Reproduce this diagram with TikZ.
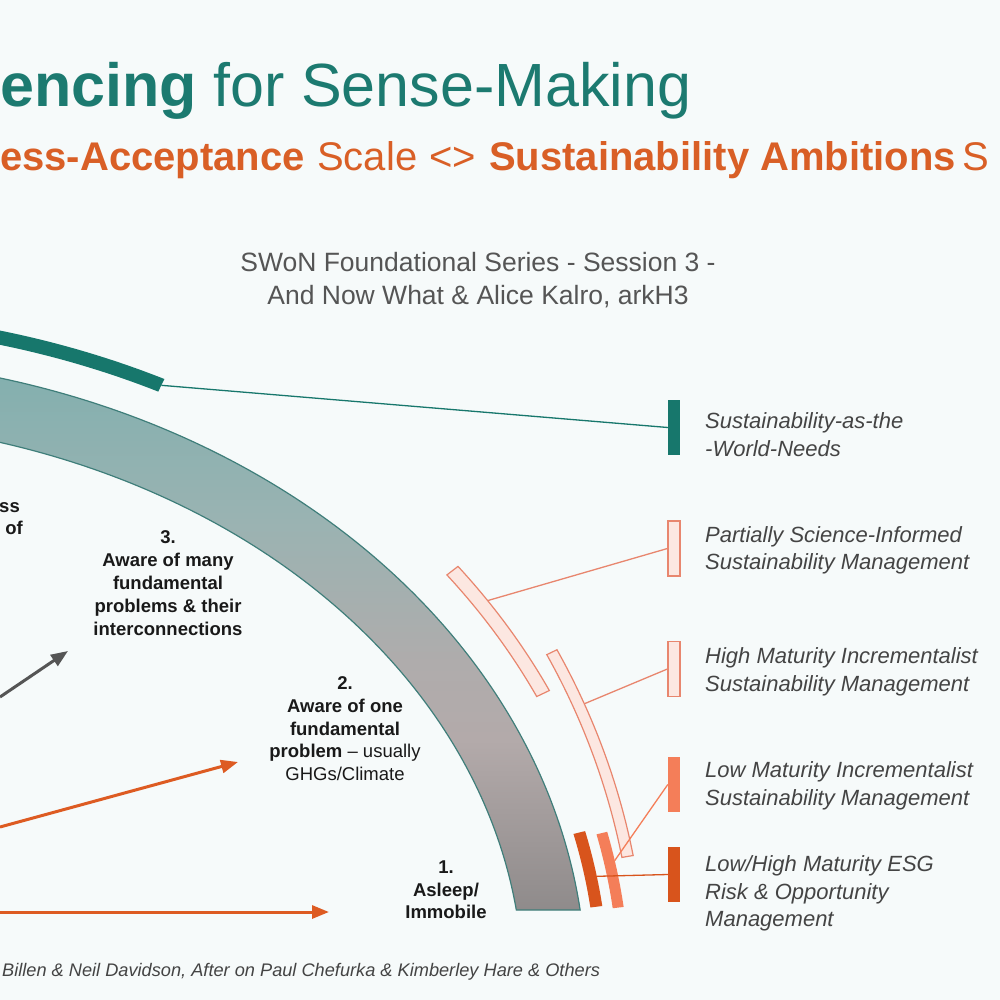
\documentclass[tikz,border=0pt]{standalone}
\usepackage{fontspec}
\setmainfont{Liberation Sans}
\usetikzlibrary{arrows.meta,calc}
\definecolor{bg}{HTML}{F6FAFA}
\definecolor{titleteal}{HTML}{1C7A70}
\definecolor{suborange}{HTML}{D95F26}
\definecolor{tealbar}{HTML}{17776C}
\definecolor{pinkfill}{HTML}{FCE7E1}
\definecolor{pinkline}{HTML}{E8866E}
\definecolor{salmon}{HTML}{F47E59}
\definecolor{darkorange}{HTML}{D8541C}
\definecolor{arrowgray}{HTML}{555555}
\definecolor{arroworange}{HTML}{DD5B22}
\definecolor{textgray}{HTML}{444444}
\definecolor{subgray}{HTML}{555555}
\definecolor{bandline}{HTML}{3F7E7A}
\definecolor{bandA}{HTML}{78AEAD}
\definecolor{bandB}{HTML}{9AB3B2}
\definecolor{bandC}{HTML}{AFACAC}
\definecolor{bandD}{HTML}{B3AAAA}
\definecolor{bandE}{HTML}{8E8A8A}
\newcommand\ringpart[7]{\path[#1] ($(C)+(#2:#6 and #7)$) arc[start angle=#2,end angle=#3,x radius=#6,y radius=#7] -- ($(C)+(#3:#4 and #5)$) arc[start angle=#3,end angle=#2,x radius=#4,y radius=#5] -- cycle;}
\begin{document}
\begin{tikzpicture}[x=1pt,y=1pt,
  lbl/.style={anchor=base west,inner sep=0pt,text=textgray,font=\fontsize{22}{26}\selectfont\itshape},
  stage/.style={anchor=base,inner sep=0pt,text=black!90,font=\fontsize{18.5}{22}\selectfont\bfseries},
  stagereg/.style={anchor=base,inner sep=0pt,text=black!90,font=\fontsize{18.5}{22}\selectfont},
  bar/.style={minimum width=12pt,minimum height=55pt,inner sep=0pt},
  conn/.style={line width=1.3pt},
  arr/.style={line width=3pt,-{Triangle[length=17pt,width=13pt]}},
  ttl/.style={anchor=base west,inner sep=0pt,text=titleteal,font=\fontsize{61}{61}\selectfont},
  sub/.style={anchor=base west,inner sep=0pt,text=suborange,font=\fontsize{40}{40}\selectfont},
  series/.style={anchor=base,inner sep=0pt,text=subgray,font=\fontsize{26.5}{30}\selectfont},
]
\useasboundingbox (0,-1000) rectangle (1000,0);
\clip (0,-1000) rectangle (1000,0);
\fill[bg] (0,-1000) rectangle (1000,0);
\coordinate (C) at (-201,-986.6);

% main gradient band
\begin{scope}
\clip ($(C)+(6.99:787 and 629.5)$) arc[start angle=6.99,end angle=100,x radius=787,y radius=629.5] -- ($(C)+(100:724 and 566.5)$) arc[start angle=100,end angle=7.77,x radius=724,y radius=566.5] -- cycle;
\shade[top color=bandA,bottom color=bandB] (-300,-300) rectangle (700,-522);
\shade[top color=bandB,bottom color=bandC] (-300,-520) rectangle (700,-662);
\shade[top color=bandC,bottom color=bandD] (-300,-660) rectangle (700,-742);
\shade[top color=bandD,bottom color=bandE] (-300,-740) rectangle (700,-915);
\end{scope}
\draw[bandline,line width=1.2pt] ($(C)+(6.99:787 and 629.5)$) arc[start angle=6.99,end angle=100,x radius=787,y radius=629.5] -- ($(C)+(100:724 and 566.5)$) arc[start angle=100,end angle=7.77,x radius=724,y radius=566.5] -- cycle;

% teal arc
\ringpart{fill=tealbar}{64}{100}{819.5}{662}{833.5}{676}
% pink arcs
\ringpart{fill=pinkfill,draw=pinkline,line width=1.2pt}{25.4}{37.5}{816.7}{676.3}{830.7}{690.3}
\ringpart{fill=pinkfill,draw=pinkline,line width=1.2pt}{10}{26.5}{835.6}{744}{847}{755}
% small arcs
\ringpart{fill=darkorange}{7.1}{13.8}{797.5}{640}{809.5}{652}
\ringpart{fill=salmon}{6.8}{13.3}{819.5}{662}{830.5}{673}

% anchor points on arcs
\coordinate (tealend) at ($(C)+(64:826.5 and 669)$);
\coordinate (p1pt) at ($(C)+(34:830.7 and 690.3)$);
\coordinate (p2pt) at ($(C)+(22:847 and 755)$);
\coordinate (salpt) at ($(C)+(10.8:830.5 and 673)$);
\coordinate (darkpt) at ($(C)+(9.74:809.5 and 652)$);

% right bars
\node[bar,fill=tealbar] (b1) at (674,-427.5) {};
\node[bar,fill=pinkfill,draw=pinkline,line width=1.2pt] (b2) at (674,-548.5) {};
\node[bar,fill=pinkfill,draw=pinkline,line width=1.2pt] (b3) at (674,-669) {};
\node[bar,fill=salmon] (b4) at (674,-784.5) {};
\node[bar,fill=darkorange] (b5) at (674,-874.5) {};

% connectors
\draw[conn,tealbar] (tealend) -- (b1.west);
\draw[conn,pinkline] (p1pt) -- (b2.west);
\draw[conn,pinkline] (p2pt) -- (b3.west);
\draw[conn,salmon] (salpt) -- (b4.west);
\draw[conn,darkorange] (darkpt) -- (b5.west);

% right labels
\node[lbl] (l1a) at (705,-428) {Sustainability-as-the};
\node[lbl] (l1b) at (705,-456) {-World-Needs};
\node[lbl] (l2a) at (705,-542) {Partially Science-Informed};
\node[lbl] (l2b) at (705,-569) {Sustainability Management};
\node[lbl] (l3a) at (705,-663) {High Maturity Incrementalist};
\node[lbl] (l3b) at (705,-691) {Sustainability Management};
\node[lbl] (l4a) at (705,-777) {Low Maturity Incrementalist};
\node[lbl] (l4b) at (705,-805) {Sustainability Management};
\node[lbl] (l5a) at (705,-871) {Low/High Maturity ESG};
\node[lbl] (l5b) at (705,-899) {Risk \& Opportunity};
\node[lbl] (l5c) at (705,-926) {Management};

% titles
\node[ttl,font=\fontsize{61}{61}\selectfont\bfseries] (ta) at (0,-107) {encing};
\node[ttl] (tb) at (213,-107) {for Sense-Making};
\node[sub,font=\fontsize{40}{40}\selectfont\bfseries] (sa) at (0,-171) {ess-Acceptance};
\node[sub] (sb) at (317,-171) {Scale};
\node[sub] (sc) at (429,-171) {<>};
\node[sub,font=\fontsize{40}{40}\selectfont\bfseries] (sd) at (489,-171) {Sustainability Ambitions};
\node[sub] (se) at (962,-171) {S};
\node[series] (ser1) at (478,-271) {SWoN Foundational Series - Session 3 -};
\node[series] (ser2) at (478,-304) {And Now What \& Alice Kalro, arkH3};

% stage labels
\node[stage,anchor=base east] (s4a) at (20,-512) {ss};
\node[stage,anchor=base east] (s4b) at (23,-534) {of};
\node[stage] (s3a) at (168,-543) {3.};
\node[stage] (s3b) at (168,-566) {Aware of many};
\node[stage] (s3c) at (168,-589) {fundamental};
\node[stage] (s3d) at (168,-612) {problems \& their};
\node[stage] (s3e) at (168,-635) {interconnections};
\node[stage] (s2a) at (345,-689) {2.};
\node[stage] (s2b) at (345,-712) {Aware of one};
\node[stage] (s2c) at (345,-735) {fundamental};
\node[stagereg] (s2d) at (345,-757) {\textbf{problem} – usually};
\node[stagereg] (s2e) at (345,-780) {GHGs/Climate};
\node[stage] (s1a) at (446,-873) {1.};
\node[stage] (s1b) at (446,-896) {Asleep/};
\node[stage] (s1c) at (446,-918) {Immobile};

% arrows
\coordinate (g0) at (0,-697);
\coordinate (g1) at (68,-651);
\coordinate (o0) at (0,-827);
\coordinate (o1) at (238,-762);
\coordinate (q0) at (0,-912);
\coordinate (q1) at (329,-912);
\draw[arr,arrowgray] (g0) -- (g1);
\draw[arr,arroworange] (o0) -- (o1);
\draw[arr,arroworange] (q0) -- (q1);

% footer
\node[anchor=base west,inner sep=0pt,text=textgray,font=\fontsize{18.2}{20}\selectfont\itshape] (foot) at (2,-976) {Billen \& Neil Davidson, After on Paul Chefurka \& Kimberley Hare \& Others};
\end{tikzpicture}
\end{document}
